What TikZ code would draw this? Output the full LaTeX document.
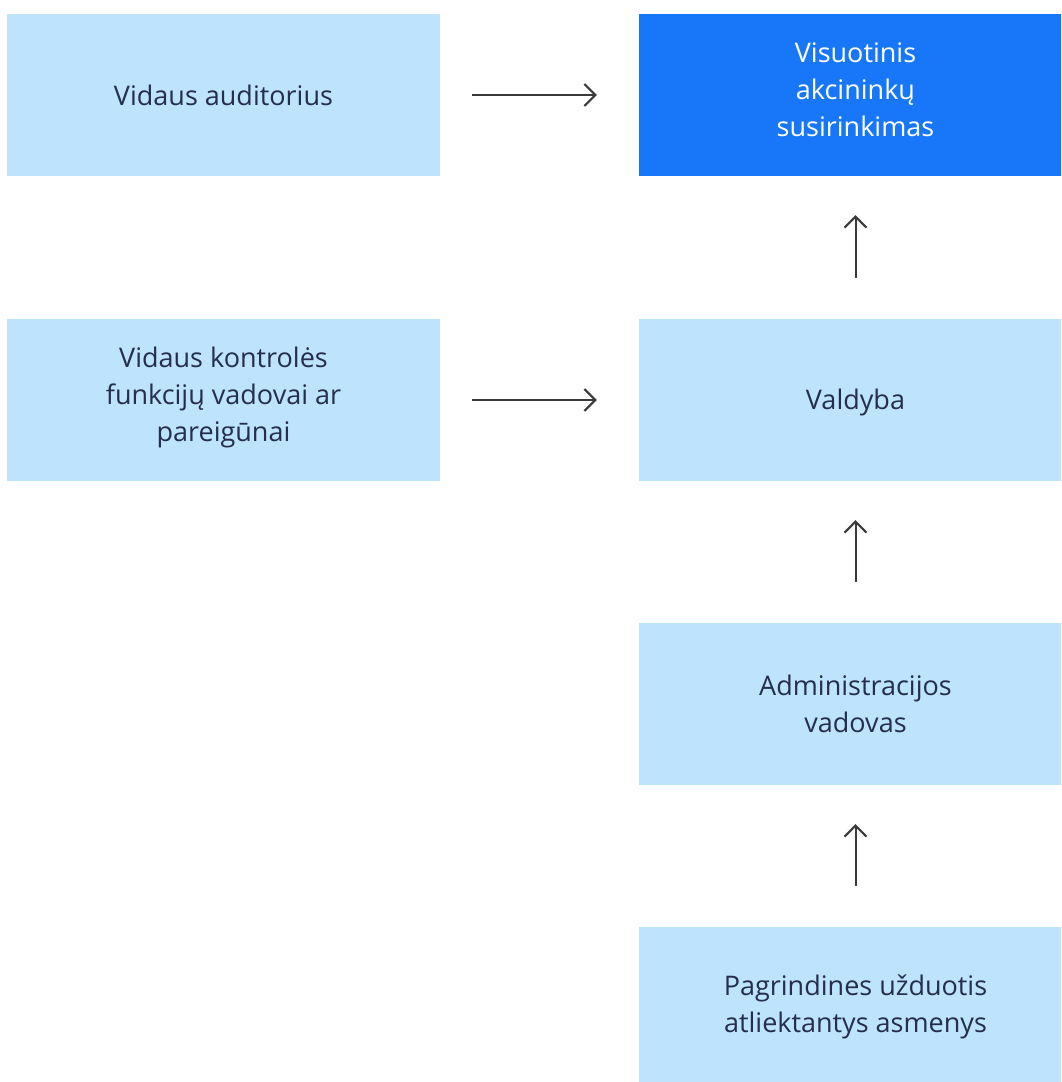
\documentclass[tikz,border=0pt]{standalone}
\usepackage{fontspec}
\setmainfont{Open Sans}
\usetikzlibrary{arrows.meta}
\definecolor{lightbox}{HTML}{BDE3FD}
\definecolor{darkbox}{HTML}{1877F8}
\definecolor{boxtext}{HTML}{252E4B}
\definecolor{arrowc}{HTML}{3A3A3A}
\tikzset{
  box/.style={fill=lightbox, draw=none, minimum width=433pt, minimum height=162pt,
    align=center, text=boxtext, font=\fontsize{27}{37}\selectfont, inner sep=0pt},
  topbox/.style={box, fill=darkbox, text=white},
  lbl/.style={align=center, text=boxtext, font=\fontsize{27}{37}\selectfont, inner sep=0pt},
  conn/.style={draw=arrowc, line width=2pt, -{Straight Barb[length=11pt,width=22pt,line width=2pt]}}
}
\begin{document}
\begin{tikzpicture}[x=1pt,y=-1pt]
\useasboundingbox (0,0) rectangle (1061,1082);
\clip (0,0) rectangle (1061,1082);
\node[box] (aud) at (223.5,95) {Vidaus auditorius};
\node[topbox, label={[lbl, text=white, yshift=5pt]center:Visuotinis\\akcininkų\\susirinkimas}] (vas) at (855.5,95) {};
\node[box, label={[lbl, yshift=3pt]center:Vidaus kontrolės\\funkcijų vadovai ar\\pareigūnai}] (vkf) at (223.5,400) {};
\node[box, label={[lbl, yshift=-2pt]center:Valdyba}] (val) at (855.5,400) {};
\node[box] (adm) at (855.5,704) {Administracijos\\vadovas};
\node[box, label={[lbl, yshift=1pt]center:Pagrindines užduotis\\atliektantys asmenys}] (pua) at (855.5,1008) {};
\draw[conn, shorten <=32pt, shorten >=42pt] (aud.east) -- (vas.west);
\draw[conn, shorten <=32pt, shorten >=42pt] (vkf.east) -- (val.west);
\draw[conn, shorten <=41pt, shorten >=39pt] (val.north) -- (vas.south);
\draw[conn, shorten <=41pt, shorten >=39pt] (adm.north) -- (val.south);
\draw[conn, shorten <=41pt, shorten >=39pt] (pua.north) -- (adm.south);
\end{tikzpicture}
\end{document}
